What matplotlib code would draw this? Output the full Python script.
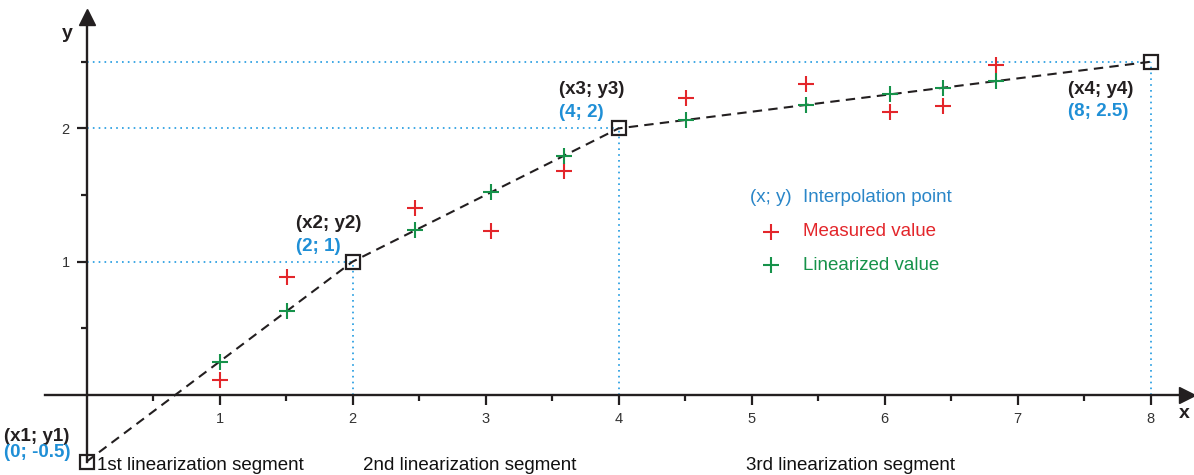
import matplotlib
matplotlib.use("Agg")
import matplotlib.pyplot as plt
from matplotlib.ticker import FixedLocator

plt.rcParams['font.family'] = ['Liberation Sans', 'DejaVu Sans']

# ---- data ----
interp_x = [0, 2, 4, 8]
interp_y = [-0.5, 1, 2, 2.5]
interp_names = ["(x1; y1)", "(x2; y2)", "(x3; y3)", "(x4; y4)"]
interp_vals = ["(0; -0.5)", "(2; 1)", "(4; 2)", "(8; 2.5)"]

meas_x = [1.0, 1.51, 2.47, 3.04, 3.59, 4.51, 5.41, 6.04, 6.44, 6.84]
meas_y = [0.11, 0.885, 1.40, 1.23, 1.68, 2.23, 2.33, 2.12, 2.17, 2.475]
lin_y = [0.25, 0.63, 1.235, 1.52, 1.795, 2.064, 2.176, 2.255, 2.305, 2.355]

x_major = [1, 2, 3, 4, 5, 6, 7, 8]
x_minor = [0.5, 1.5, 2.5, 3.5, 4.5, 5.5, 6.5, 7.5]
y_major = [1, 2]
y_minor = [0.5, 1.5, 2.5]

segment_labels = ["1st linearization segment", "2nd linearization segment",
                  "3rd linearization segment"]
segment_x = [0.08, 2.08, 4.96]

legend_labels = ["Interpolation point", "Measured value", "Linearized value"]

# ---- colors ----
BLACK = "#231f20"
BLUE = "#1e9ae0"
BLUE_TXT = "#1f8fd6"
BLUE_LEG = "#2a86c8"
RED = "#e3262b"
GREEN = "#16924a"

W, H = 1194, 475
fig = plt.figure(figsize=(W / 100, H / 100), dpi=100)
ax = fig.add_axes([0, 0, 1, 1])

# pixel mapping: x=0 -> px 86.5, 133 px / unit ; y=0 -> py 395, 133.3 px / unit
sx, x0 = 133.0, 86.5
sy, y0 = 133.3, 395.0
ax.set_xlim(-x0 / sx, (W - x0) / sx)
ax.set_ylim(-(H - y0) / sy, y0 / sy)

# spines as axes
for s in ['top', 'right']:
    ax.spines[s].set_visible(False)
ax.spines['left'].set_position(('data', 0))
ax.spines['bottom'].set_position(('data', 0))
ax.spines['left'].set_bounds(-0.5, (y0 - 20) / sy)
ax.spines['bottom'].set_bounds((45 - x0) / sx, (1182 - x0) / sx)
for s in ['left', 'bottom']:
    ax.spines[s].set_linewidth(1.7)
    ax.spines[s].set_color(BLACK)
    ax.spines[s].set_zorder(3)

# arrow heads
ax.plot([0], [(y0 - 17) / sy], marker='^', ms=11, color=BLACK,
        clip_on=False, zorder=4)
ax.plot([(1187 - x0) / sx], [0], marker='>', ms=11, color=BLACK,
        clip_on=False, zorder=4)

ax.xaxis.set_major_locator(FixedLocator(x_major))
ax.xaxis.set_minor_locator(FixedLocator(x_minor))
ax.yaxis.set_major_locator(FixedLocator(y_major))
ax.yaxis.set_minor_locator(FixedLocator(y_minor))
ax.set_xticklabels([str(v) for v in x_major])
ax.set_yticklabels([str(v) for v in y_major])
ax.tick_params(axis='both', which='major', direction='out', length=7, width=1.6,
               color=BLACK, labelsize=10.5, labelcolor="#333333", pad=5)
ax.tick_params(axis='both', which='minor', direction='out', length=4.5, width=1.6,
               color=BLACK)

# blue dotted guide lines
for xi, yi in zip(interp_x[1:], interp_y[1:]):
    ax.plot([0, xi], [yi, yi], linestyle=(0, (1, 2.5)), color=BLUE, lw=1.2, zorder=1)
    ax.plot([xi, xi], [0, yi], linestyle=(0, (1, 2.5)), color=BLUE, lw=1.2, zorder=1)

# dashed linearization line
ax.plot(interp_x, interp_y, linestyle=(0, (4.5, 3)), color=BLACK, lw=1.5, zorder=2)

# measured / linearized
ax.plot(meas_x, meas_y, linestyle='none', marker='+', ms=11, mew=1.5,
        color=RED, zorder=5)
ax.plot(meas_x, lin_y, linestyle='none', marker='+', ms=11, mew=1.5,
        color=GREEN, zorder=5)

# interpolation squares
ax.plot(interp_x, interp_y, linestyle='none', marker='s', ms=10.5, mew=1.6,
        mfc='none', mec=BLACK, zorder=6, clip_on=False)

# point labels (positions in data coords)
name_pos = [(-0.62, -0.315, 'left'), (1.575, 1.29, 'left'),
            (3.55, 2.29, 'left'), (7.87, 2.29, 'right')]
val_pos = [(-0.62, -0.43, 'left'), (1.575, 1.115, 'left'),
           (3.555, 2.12, 'left'), (7.83, 2.13, 'right')]
for name, val, (nx, ny, nha), (vx, vy, vha) in zip(interp_names, interp_vals,
                                                     name_pos, val_pos):
    ax.text(nx, ny, name, ha=nha, va='center', fontsize=13.5, fontweight='bold',
            color=BLACK)
    ax.text(vx, vy, val, ha=vha, va='center', fontsize=13.5, fontweight='bold',
            color=BLUE_TXT)

# axis names
ax.text((67 - x0) / sx, (y0 - 33) / sy, "y", ha='center', va='center',
        fontsize=14, fontweight='bold', color=BLACK)
ax.text((1184 - x0) / sx, (y0 - 414) / sy, "x", ha='center', va='center',
        fontsize=14, fontweight='bold', color=BLACK)

# segment labels
for lab, sxp in zip(segment_labels, segment_x):
    ax.text(sxp, (y0 - 465) / sy, lab, ha='left', va='center', fontsize=13.5,
            color="#111111")

# legend (manual, as in the reference)
leg_x_sym = (771 - x0) / sx
leg_x_txt = (803 - x0) / sx
leg_y = [(y0 - 198) / sy, (y0 - 232) / sy, (y0 - 265) / sy]
ax.text(leg_x_sym, leg_y[0], "(x; y)", ha='center', va='center', fontsize=13.5,
        color=BLUE_LEG)
ax.plot([leg_x_sym], [leg_y[1]], marker='+', ms=11, mew=1.5, color=RED)
ax.plot([leg_x_sym], [leg_y[2]], marker='+', ms=11, mew=1.5, color=GREEN)
for lab, ly, c in zip(legend_labels, leg_y, [BLUE_LEG, RED, GREEN]):
    ax.text(leg_x_txt, ly, lab, ha='left', va='center', fontsize=13.5, color=c)

fig.savefig("out.png", dpi=100)
